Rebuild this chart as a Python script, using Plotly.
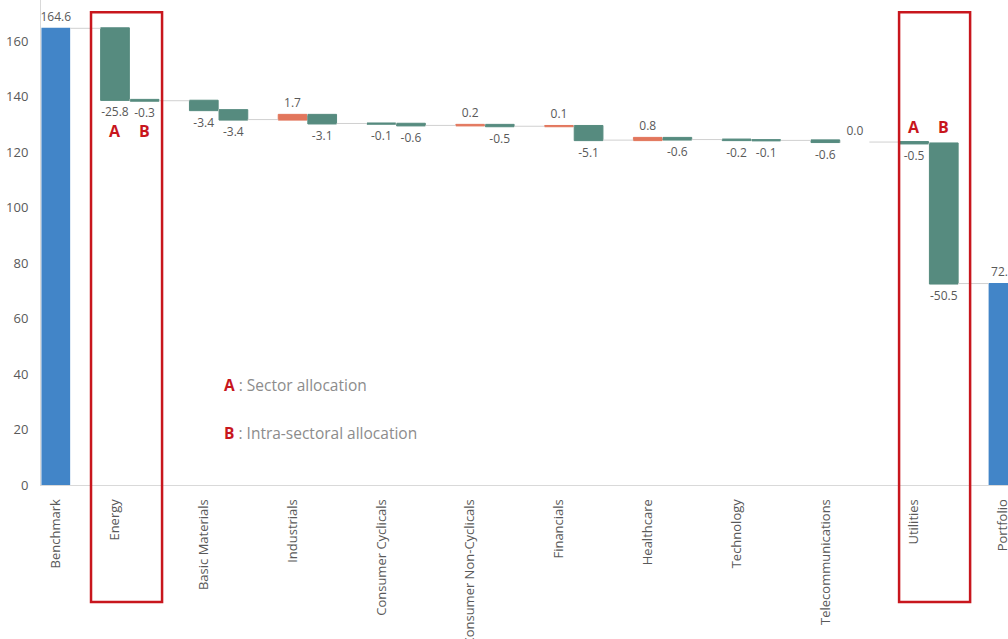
import plotly.graph_objects as go

# ---- data ----
sectors = ["Energy", "Basic Materials", "Industrials", "Consumer Cyclicals",
           "Consumer Non-Cyclicals", "Financials", "Healthcare", "Technology",
           "Telecommunications", "Utilities"]
benchmark = 164.6
sector_alloc = [-25.8, -3.4, 1.7, -0.1, 0.2, 0.1, 0.8, -0.2, -0.6, -0.5]     # A
intra_alloc = [-0.3, -3.4, -3.1, -0.6, -0.5, -5.1, -0.6, -0.1, 0.0, -50.5]   # B

# ---- build waterfall sequence: Benchmark, gap, A, B, gap, A, B, ..., gap, Portfolio ----
xs, measures, ys, texts = [0], ["absolute"], [benchmark], [f"{benchmark:.1f}"]
tickvals, ticktext = [0], ["Benchmark"]
pos = 1
ab_pos = {}
for name, a, b in zip(sectors, sector_alloc, intra_alloc):
    pos += 1
    tickvals.append(pos); ticktext.append(name)
    ab_pos[name] = pos
    xs += [pos, pos + 1]
    measures += ["relative", "relative"]
    ys += [a, b]
    texts += [f"{a:.1f}", f"{b:.1f}"]
    pos += 2
portfolio_x = pos + 1
portfolio = benchmark + sum(sector_alloc) + sum(intra_alloc)
xs.append(portfolio_x); measures.append("total"); ys.append(0); texts.append(f"{portfolio:.1f}")
tickvals.append(portfolio_x); ticktext.append("Portfolio")

TEAL = "#568B7F"
SALMON = "#E2765C"
BLUE = "#4285C8"
RED = "#C8161D"
GRAY = "#595959"

fig = go.Figure(go.Waterfall(
    x=xs, y=ys, measure=measures, text=texts, textposition="outside",
    textfont=dict(size=12, color=GRAY, family="Open Sans"),
    constraintext="none", cliponaxis=True, width=0.97,
    decreasing=dict(marker=dict(color=TEAL, line=dict(color=TEAL, width=1))),
    increasing=dict(marker=dict(color=SALMON, line=dict(color=SALMON, width=1))),
    totals=dict(marker=dict(color=BLUE, line=dict(color=BLUE, width=0))),
    connector=dict(mode="between", line=dict(color="#D0D0D0", width=1)),
    showlegend=False,
))

# red boxes around Energy and Utilities (offsets relative to the sector's A bar)
for name, lo, hi in [("Energy", -0.81, 1.59), ("Utilities", -0.51, 1.89)]:
    p = ab_pos[name]
    fig.add_shape(type="rect", xref="x", yref="paper",
                  x0=p + lo, x1=p + hi, y0=-0.241, y1=0.975,
                  line=dict(color=RED, width=2.5), fillcolor="rgba(0,0,0,0)")

# A / B letters
for name, yv in [("Energy", 127.6), ("Utilities", 129.0)]:
    p = ab_pos[name]
    for dx, letter in [(0, "A"), (1, "B")]:
        fig.add_annotation(x=p + dx, y=yv, xref="x", yref="y", text=f"<b>{letter}</b>",
                           showarrow=False, font=dict(size=16, color=RED, family="Open Sans"))

# explanation text
fig.add_annotation(x=0.187, y=0.206, xref="paper", yref="paper", xanchor="left", yanchor="middle",
                   showarrow=False,
                   text=f"<b><span style='color:{RED}'>A</span></b> : Sector allocation",
                   font=dict(size=15.5, color="#8C8C8C", family="Open Sans"))
fig.add_annotation(x=0.187, y=0.107, xref="paper", yref="paper", xanchor="left", yanchor="middle",
                   showarrow=False,
                   text=f"<b><span style='color:{RED}'>B</span></b> : Intra-sectoral allocation",
                   font=dict(size=15.5, color="#8C8C8C", family="Open Sans"))

fig.update_layout(
    width=1008, height=639,
    margin=dict(l=41, r=0, t=0, b=154),
    paper_bgcolor="white", plot_bgcolor="white",
    font=dict(family="Open Sans", color=GRAY),
    xaxis=dict(range=[-0.5, 32.17], tickmode="array", tickvals=tickvals, ticktext=ticktext,
               tickangle=-90, showgrid=False, zeroline=False, showline=True, linecolor="#D9D9D9",
               ticks="", tickfont=dict(size=13, color=GRAY), automargin=False, ticklabelstandoff=8,
               ticklabeloverflow="allow"),
    yaxis=dict(range=[0, 174.8], tickvals=[0, 20, 40, 60, 80, 100, 120, 140, 160],
               showgrid=False, zeroline=False, showline=True, linecolor="#D9D9D9",
               ticks="", tickfont=dict(size=13, color=GRAY), automargin=False, ticklabelstandoff=9),
)

fig.write_html("out.html")
